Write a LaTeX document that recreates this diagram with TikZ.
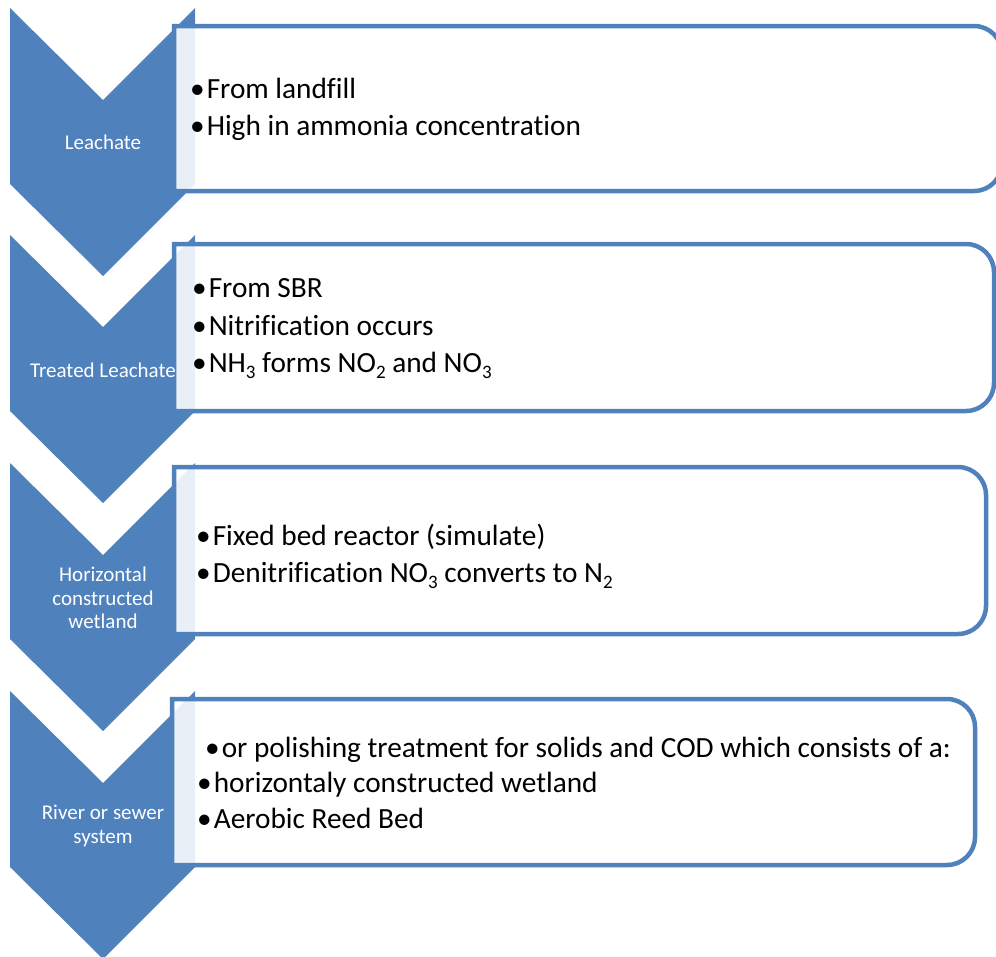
\documentclass[tikz,border=0pt]{standalone}
\usepackage{fontspec}
\setmainfont{Carlito}[Ligatures=NoCommon]
\definecolor{accent}{HTML}{4F81BD}
\newcommand\subs[1]{\raisebox{-0.22em}{\fontsize{19}{19}\selectfont #1}}
\newcommand\bul{•\hspace{2pt}}
\begin{document}
\begin{tikzpicture}[x=1pt,y=-1pt,
  chev/.style={fill=accent, draw=none},
  listbox/.style={draw=accent, line width=4.5pt, fill=white, fill opacity=0.875, draw opacity=1},
  chevlabel/.style={text=white, font=\fontsize{21}{23.5}\selectfont, align=center, inner sep=0pt},
  item/.style={anchor=base west, inner sep=0pt, font=\fontsize{29.3}{37}\selectfont, text=black}]
\useasboundingbox (0,0) rectangle (996,956);
% chevrons
\foreach \t in {8,235,463,691}{
  \fill[chev] (10,\t) -- (103,\t+92) -- (195,\t) -- (195,\t+176) -- (103,\t+268) -- (10,\t+176) -- cycle;
}
% boxes
\draw[listbox] (174,26) -- (974,26) arc[start angle=-90,end angle=0,radius=28] -- (1002,163) arc[start angle=0,end angle=90,radius=28] -- (174,191) -- cycle;
\draw[listbox] (174,244) -- (966,244) arc[start angle=-90,end angle=0,radius=28] -- (994,383) arc[start angle=0,end angle=90,radius=28] -- (174,411) -- cycle;
\draw[listbox] (174,467) -- (958,467) arc[start angle=-90,end angle=0,radius=28] -- (986,606) arc[start angle=0,end angle=90,radius=28] -- (174,634) -- cycle;
\draw[listbox] (172,699) -- (947,699) arc[start angle=-90,end angle=0,radius=28] -- (975,837) arc[start angle=0,end angle=90,radius=28] -- (172,865) -- cycle;
% chevron labels
\node[chevlabel] (c1) at (103,142) {Leachate};
\node[chevlabel] (c2) at (103,370) {Treated Leachate};
\node[chevlabel] (c3) at (103,598) {Horizontal\\constructed\\wetland};
\node[chevlabel] (c4) at (103,826) {River or sewer\\system};
% box texts
\node[item] (a1) at (190,98) {\bul From landfill};
\node[item] (a2) at (190,135) {\bul High in ammonia concentration};
\node[item] (b1) at (192,297) {\bul From SBR};
\node[item] (b2) at (192,335) {\bul Nitrification occurs};
\node[item] (b3) at (192,372) {\bul NH\subs{3} forms NO\subs{2} and NO\subs{3}};
\node[item] (d1) at (196,545) {\bul Fixed bed reactor (simulate)};
\node[item] (d2) at (196,582) {\bul Denitrification NO\subs{3} converts to N\subs{2}};
\node[item] (e1) at (205,757) {\bul or polishing treatment for solids and COD which consists of a:};
\node[item] (e2) at (197,792) {\bul horizontaly constructed wetland};
\node[item] (e3) at (197,828) {\bul Aerobic Reed Bed};
\end{tikzpicture}
\end{document}
